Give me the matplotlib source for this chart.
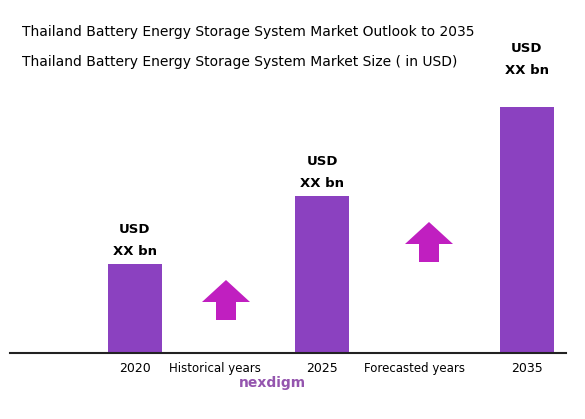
import matplotlib.pyplot as plt
from matplotlib.patches import FancyArrow

years = ["2020", "2025", "2035"]
bar_x = [135, 322, 527]
bar_heights = [89, 157, 246]
labels = ["USD\nXX bn", "USD\nXX bn", "USD\nXX bn"]
label_gap = [6, 6, 30]
period_labels = ["Historical years", "Forecasted years"]
period_x = [215, 415]
arrow_x = [226, 429]
arrow_y = [99, 157]

base = 66
fig = plt.figure(figsize=(5.85, 4.19), dpi=100)
ax = fig.add_axes([0, 0, 1, 1])
ax.set_xlim(0, 585)
ax.set_ylim(0, 419)
ax.axis("off")

ax.bar(bar_x, bar_heights, width=54, bottom=base, color="#8b41c0")
ax.plot([10, 566], [base, base], color="#222222", lw=1.5)

for x, h, g, lab, yr in zip(bar_x, bar_heights, label_gap, labels, years):
    ax.text(x, base + h + g, lab, ha="center", va="bottom", fontsize=9.5,
            fontweight="bold", linespacing=1.9)
    ax.text(x, base - 15, yr, ha="center", va="center", fontsize=9)

for x, t in zip(period_x, period_labels):
    ax.text(x, base - 15, t, ha="center", va="center", fontsize=8.5)

for x, y in zip(arrow_x, arrow_y):
    ax.add_patch(FancyArrow(x, y, 0, 40, width=20, head_width=48, head_length=22,
                            length_includes_head=True, color="#c01fc0", lw=0))

ax.text(22, 387, "Thailand Battery Energy Storage System Market Outlook to 2035",
        fontsize=10, va="center", ha="left", fontweight="medium")
ax.text(22, 357, "Thailand Battery Energy Storage System Market Size ( in USD)",
        fontsize=10, va="center", ha="left", fontweight="medium")
ax.text(272, 36, "nexdigm", fontsize=10, color="#7a2a9a", ha="center", va="center",
        fontweight="bold", alpha=0.8)

fig.savefig("out.png", dpi=100)
